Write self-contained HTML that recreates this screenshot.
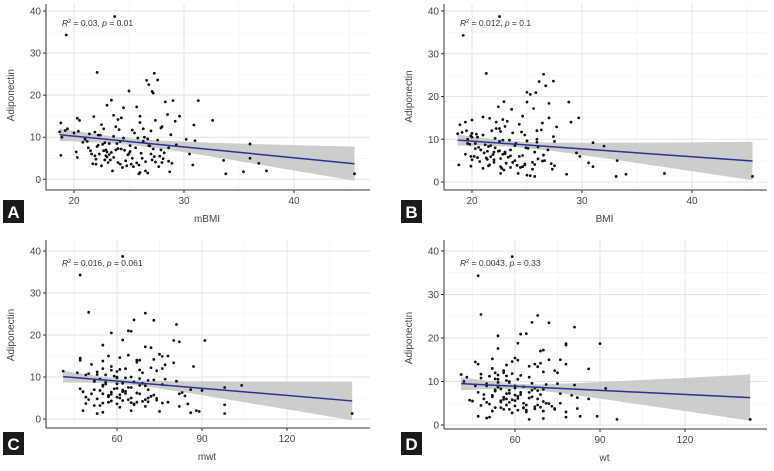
<!DOCTYPE html>
<html><head><meta charset="utf-8"><style>
body{margin:0;background:#fff}
svg{display:block;font-family:"Liberation Sans",sans-serif}
</style></head><body>
<svg id="c" width="774" height="471" viewBox="0 0 774 471"></svg>
<script>
const adiponectin=[38.7,34.3,25.4,25.2,23.6,23.5,22.5,21.0,20.9,20.5,18.8,18.7,18.7,18.4,17.6,17.2,17.0,15.4,15.2,15.0,15.0,14.9,14.5,14.2,14.0,14.0,14.0,13.8,13.4,13.0,12.9,12.5,12.0,12.0,12.0,11.7,11.6,11.5,11.4,11.3,11.0,11.0,10.6,10.5,10.0,10.0,9.8,9.5,9.5,9.2,9.0,9.0,8.8,8.5,8.4,8.3,8.2,8.0,7.5,7.5,7.2,7.0,7.0,6.8,6.5,6.5,6.3,6.0,6.0,6.0,5.7,5.6,5.5,5.2,5.0,5.0,4.6,4.6,4.5,4.3,4.0,4.0,3.8,3.7,3.6,3.6,3.4,3.2,3.0,3.0,2.0,2.0,2.0,1.8,1.8,1.6,1.5,1.3,1.3,1.3,
10.5,9.8,9.0,8.5,8.0,7.8,7.5,7.2,7.0,6.8,6.6,6.4,6.2,6.0,5.8,5.6,5.4,5.2,5.0,4.8,4.6,4.4,4.2,4.0,3.8,3.6,3.4,3.2,12.5,13.5,11.8,10.8,9.3,8.7,7.9,6.9,5.9,4.9,3.9,14.6,12.2,11.2,10.2,9.6,8.1,7.3,6.1,5.3,4.1,2.8];
const mBMI=[23.7,19.3,22.1,27.3,27.6,26.6,26.8,25.0,27.1,27.2,23.4,29.0,31.3,28.3,23.0,25.7,24.5,28.5,23.6,26.0,29.6,21.8,20.3,24.0,20.5,32.6,27.4,29.2,18.8,22.5,30.9,28.0,19.4,22.7,26.3,25.3,19.2,27.0,20.4,18.7,20.0,25.5,28.8,22.2,18.9,26.4,25.8,30.2,21.0,31.0,24.2,26.3,20.8,23.2,36.0,22.6,29.3,25.1,28.6,21.3,27.2,22.9,23.8,21.5,20.2,23.0,28.2,22.3,27.0,30.5,18.8,21.9,27.8,20.3,36.0,26.2,22.8,23.3,33.6,28.6,24.0,28.0,36.8,21.7,25.2,22.0,30.8,24.8,25.4,27.7,23.5,26.5,37.5,28.7,35.4,26.0,26.7,33.8,45.5,25.9,
22.4,24.5,21.2,23.9,26.8,22.1,25.6,24.3,27.9,22.7,25.1,23.4,26.1,21.6,24.9,22.9,27.3,23.6,25.3,22.0,27.1,24.7,26.5,23.1,28.9,24.2,25.9,22.5,23.8,26.0,24.1,21.4,27.6,22.8,26.9,24.6,23.2,28.1,25.7,24.3,27.9,21.9,23.6,26.7,22.2,24.0,25.0,23.0,27.4,24.4];
const BMI=[22.5,19.2,21.3,26.5,27.4,26.1,26.7,25.0,25.8,25.3,22.9,28.8,25.0,27.0,22.4,25.6,23.6,24.6,21.0,29.7,27.0,21.6,20.0,23.2,19.4,22.2,29.0,26.4,18.9,23.0,27.7,22.5,19.5,21.8,25.9,24.5,19.1,23.7,20.0,18.7,21.0,24.8,27.4,20.0,19.6,25.9,23.4,27.5,22.5,31.0,20.3,24.0,19.8,23.9,32.0,21.5,26.0,22.1,26.9,20.8,21.4,22.0,23.0,29.5,19.4,22.8,26.5,19.9,24.3,29.8,20.5,21.3,22.6,20.0,33.2,26.6,22.0,23.7,30.6,27.2,18.8,24.8,21.5,19.9,24.6,31.0,23.5,22.7,27.3,25.5,22.6,24.2,37.5,28.6,34.0,25.0,25.3,33.1,45.5,25.7,
20.5,22.8,19.6,21.7,24.9,20.3,23.5,22.4,25.7,21.1,23.0,21.9,24.6,20.2,23.3,21.3,26.0,22.0,23.9,20.7,25.5,23.1,24.8,21.6,27.5,22.6,24.4,21.0,22.2,24.3,22.6,19.9,25.9,21.2,25.1,23.0,21.7,26.4,24.1,22.8,26.3,20.4,22.1,25.0,20.6,22.5,23.5,21.4,25.7,22.9];
const mwt=[62,47,50,70,66,73,81,64,65,58,62,80,91,82,55,70,72,75,64,57,78,76,47,73,47,68,67,55,80,51,77,87,63,55,76,68,58,74,41,60,46,69,53,49,60,65,63,77,54,71,81,52,66,69,60,56,76,104,98,65,47,52,86,90,62,48,83,55,68,82,73,57,84,49,71,61,64,50,74,58,67,78,55,49,66,85,98,52,70,82,65,88,48,89,75,55,86,53,143,98,
56,60,52,62,68,55,64,59,71,54,63,58,67,51,61,57,72,60,65,53,70,62,69,57,76,60,66,54,58,67,61,50,73,56,70,62,58,74,65,61,72,53,59,68,55,60,63,57,71,61];
const wt=[59,47,48,68,66,72,81,64,62,54,61,78,90,78,54,70,69,60,52,72,76,61,46,69,47,67,78,57,68,52,86,74,56,53,75,48,41,54,62,57,43,65,53,61,42,58,54,75,50,81,60,46,63,67,92,55,70,58,47,65,76,49,62,80,52,66,82,57,68,86,44,60,45,50,71,76,64,57,48,73,53,63,82,67,56,74,61,70,64,78,47,83,89,78,51,50,70,96,143,65,
54,58,50,60,66,53,62,57,69,52,61,56,65,49,59,55,70,58,63,51,68,60,67,55,74,58,64,52,56,65,59,48,71,54,68,60,56,72,63,59,70,51,57,66,53,58,61,55,69,59];
const xTicksBMI=[20,30,40];
const xTicksWt=[60,90,120];
const yTicks=[0,10,20,30,40];
const fitA=[[18.7,45.5],[10.6,3.7]], fitB=[[18.7,45.5],[9.8,4.9]], fitC=[[41,143],[10.1,4.3]], fitD=[[41,143],[9.5,6.3]];
// [centerX, minHalfWidth, endHalfWidth]
const ciA=[25,0.8,4.05], ciB=[24,0.7,4.5], ciC=[63,0.6,4.6], ciD=[62,0.6,5.3];

const svg=document.getElementById('c');
const NS='http://www.w3.org/2000/svg';
function mk(t,a,p){const e=document.createElementNS(NS,t);for(const k in a)e.setAttribute(k,a[k]);(p||svg).appendChild(e);return e;}

const panels=[
 {id:'a',letter:'A',xs:mBMI,xlab:'mBMI',ticks:xTicksBMI,minor:[25,35,45],fit:fitA,ci:ciA,ann:['0.03','0.01'],
  L:46,R:370,T:4,ax:190,y0:179.3,y40:11,xa:20,xb:40,pa:74,pb:294,ly:200},
 {id:'b',letter:'B',xs:BMI,xlab:'BMI',ticks:xTicksBMI,minor:[25,35,45],fit:fitB,ci:ciB,ann:['0.012','0.1'],
  L:444,R:767,T:4,ax:190,y0:182,y40:11,xa:20,xb:40,pa:472,pb:692,ly:200},
 {id:'c',letter:'C',xs:mwt,xlab:'mwt',ticks:xTicksWt,minor:[45,75,105,135],fit:fitC,ci:ciC,ann:['0.016','0.061'],
  L:46,R:370,T:240,ax:428,y0:419,y40:251,xa:60,xb:120,pa:117,pb:287,ly:432},
 {id:'d',letter:'D',xs:wt,xlab:'wt',ticks:xTicksWt,minor:[45,75,105,135],fit:fitD,ci:ciD,ann:['0.0043','0.33'],
  L:444,R:767,T:240,ax:429,y0:425,y40:251,xa:60,xb:120,pa:515,pb:685,ly:432}
];

panels.forEach(p=>{
 const g=mk('g',{});
 
 
 const X=v=>p.pa+(v-p.xa)*(p.pb-p.pa)/(p.xb-p.xa);
 const Y=v=>p.y0+(v*(p.y40-p.y0)/40);
 const bottom=p.ax-2;
 [5,15,25,35].forEach(v=>mk('line',{x1:p.L+1,x2:p.R,y1:Y(v),y2:Y(v),stroke:'#f0f0f0','stroke-width':0.6},g));
 p.minor.forEach(v=>{if(X(v)<p.R)mk('line',{x1:X(v),x2:X(v),y1:p.T,y2:bottom,stroke:'#f0f0f0','stroke-width':0.6},g);});
 yTicks.forEach(v=>mk('line',{x1:p.L+1,x2:p.R,y1:Y(v),y2:Y(v),stroke:'#e3e3e3','stroke-width':1},g));
 p.ticks.forEach(v=>mk('line',{x1:X(v),x2:X(v),y1:p.T,y2:bottom,stroke:'#e3e3e3','stroke-width':1},g));
 const [cx,mh,eh]=p.ci, x0=p.fit[0][0], x1=p.fit[0][1];
 const k=(eh*eh-mh*mh)/((x1-cx)*(x1-cx));
 const f=v=>p.fit[1][0]+(v-x0)*(p.fit[1][1]-p.fit[1][0])/(x1-x0);
 const hw=v=>Math.sqrt(mh*mh+k*(v-cx)*(v-cx));
 let up=[],lo=[];
 for(let i=0;i<=40;i++){const v=x0+(x1-x0)*i/40;up.push(X(v)+','+Y(f(v)+hw(v)));lo.unshift(X(v)+','+Y(f(v)-hw(v)));}
 const band=mk('polygon',{points:up.concat(lo).join(' '),fill:'#c4c4c6','fill-opacity':0.85},g);
 
 
 p.xs.forEach((xv,i)=>{
  const c=mk('circle',{cx:X(xv),cy:Y(adiponectin[i]),r:1.4,fill:'#111'},g);
  
  
 });
 const ln=mk('line',{x1:X(x0),y1:Y(p.fit[1][0]),x2:X(x1),y2:Y(p.fit[1][1]),stroke:'#2e3192','stroke-width':1.5},g);
 
 
 mk('line',{x1:p.L,x2:p.L,y1:p.T,y2:p.ax,stroke:'#333','stroke-width':1},g);
 mk('line',{x1:p.L,x2:p.R,y1:p.ax,y2:p.ax,stroke:'#333','stroke-width':1},g);
 yTicks.forEach(v=>{
  mk('line',{x1:p.L-3,x2:p.L,y1:Y(v),y2:Y(v),stroke:'#333'},g);
  const t=mk('text',{x:p.L-5,y:Y(v)+3.5,'text-anchor':'end','font-size':10,fill:'#444'},g);t.textContent=v;
  
  
 });
 p.ticks.forEach(v=>{
  mk('line',{x1:X(v),x2:X(v),y1:p.ax,y2:p.ax+3,stroke:'#333'},g);
  const t=mk('text',{x:X(v),y:p.ax+14,'text-anchor':'middle','font-size':10,fill:'#444'},g);t.textContent=v;
  
  
 });
 const yl=mk('text',{x:0,y:0,transform:`translate(${p.L-32},${(p.y0+p.y40)/2}) rotate(-90)`,'text-anchor':'middle','font-size':10,fill:'#444'},g);
 yl.textContent='Adiponectin';
 
 
 const xl=mk('text',{x:(p.L+p.R)/2-1,y:p.ax+32,'text-anchor':'middle','font-size':10,fill:'#444'},g);
 xl.textContent=p.xlab;
 
 
 const an=mk('text',{x:p.L+16,y:Y(40)+15,'font-size':8.5,fill:'#333'},g);
 an.innerHTML=`<tspan font-style="italic">R</tspan><tspan font-size="5.5" dy="-3">2</tspan><tspan dy="3"> = ${p.ann[0]}, </tspan><tspan font-style="italic">p</tspan><tspan> = ${p.ann[1]}</tspan>`;
 
 
 const bx=mk('rect',{x:p.L-43,y:p.ly,width:21,height:23,fill:'#1a1a1a'},g);
 
 
 const lt=mk('text',{x:p.L-32.5,y:p.ly+18,'text-anchor':'middle','font-size':17,'font-weight':'bold',fill:'#fff'},g);
 lt.textContent=p.letter;
 
 
});
</script>
</body></html>
